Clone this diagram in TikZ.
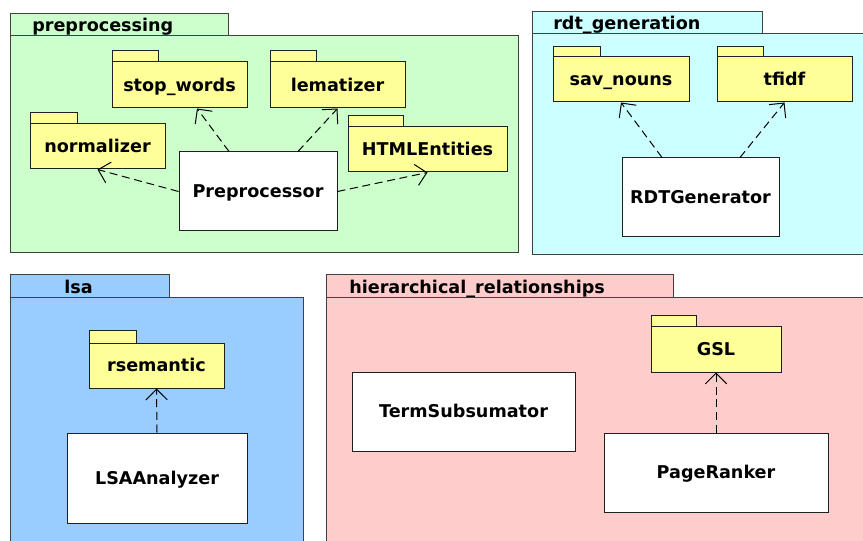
\documentclass[tikz,border=0pt]{standalone}
\usepackage{fontspec}
\setmainfont{DejaVu Sans}
\usetikzlibrary{arrows.meta,fit}
\newdimen\pxu \pxu=0.75pt
\definecolor{pkgline}{HTML}{404040}
\definecolor{boxline}{HTML}{202020}
\definecolor{prefill}{HTML}{CCFFCC}
\definecolor{rdtfill}{HTML}{CCFFFF}
\definecolor{lsafill}{HTML}{99CCFF}
\definecolor{hierfill}{HTML}{FFCCCC}
\definecolor{subfill}{HTML}{FFFF99}
\tikzset{
  txt/.style={font=\bfseries\fontsize{13.2}{16}\selectfont, text=black},
  sized/.style 2 args={minimum width=#1\pxu, minimum height=#2\pxu},
  pkgpart/.style={draw=pkgline, line width=0.75pt, inner sep=0pt},
  tabpart/.style={draw=boxline, line width=0.75pt, inner sep=0pt, fill=subfill},
  subpart/.style={draw=boxline, line width=0.75pt, inner sep=0pt, fill=subfill,
    txt, text height=9.6pt, text depth=0pt},
  classbox/.style={draw=boxline, line width=0.75pt, inner sep=0pt, fill=white,
    txt, text height=9.6pt, text depth=0pt},
  pkglabel/.style={anchor=base west, inner sep=0pt, txt},
  dep/.style={draw=black, line width=0.75pt, dash pattern=on 6pt off 3.5pt,
    -{Straight Barb[length=8pt,width=16pt,line width=0.75pt]}}
}
\begin{document}
\begin{tikzpicture}[x=0.75pt, y=-0.75pt]
\useasboundingbox (0,0) rectangle (863,541);
\fill[white] (0,0) rectangle (863,541);

% outer packages: tab + body
\node[pkgpart, fill=prefill, fit={(10,14)(228,36)}] (preTab) {};
\node[pkgpart, fill=prefill, fit={(10,36)(518,253)}] (preBody) {};
\node[pkglabel] (preLbl) at (32,32) {preprocessing};

\node[pkgpart, fill=rdtfill, fit={(532,12)(762,34)}] (rdtTab) {};
\node[pkgpart, fill=rdtfill, fit={(532,34)(880,255)}] (rdtBody) {};
\node[pkglabel] (rdtLbl) at (553,30) {rdt\_generation};

\node[pkgpart, fill=lsafill, fit={(10,275)(169,298)}] (lsaTab) {};
\node[pkgpart, fill=lsafill, fit={(10,298)(303,560)}] (lsaBody) {};
\node[pkglabel] (lsaLbl) at (64,294) {lsa};

\node[pkgpart, fill=hierfill, fit={(326,275)(673,298)}] (hierTab) {};
\node[pkgpart, fill=hierfill, fit={(326,298)(880,560)}] (hierBody) {};
\node[pkglabel] (hierLbl) at (349,294) {hierarchical\_relationships};

% nested packages: small tab, then body with name
\node[tabpart, fit={(112,51)(158,62)}] (stopTab) {};
\node[subpart, sized={135}{46}] (stop) at (179.5,85) {stop\_words};
\node[tabpart, fit={(270,51)(316,62)}] (lemTab) {};
\node[subpart, sized={135}{46}] (lem) at (337.5,85) {lematizer};
\node[tabpart, fit={(30,113)(77,124)}] (normTab) {};
\node[subpart, sized={135}{45}] (norm) at (97.5,146.5) {normalizer};
\node[tabpart, fit={(348,116)(403,127)}] (htmlTab) {};
\node[subpart, sized={159}{45}] (html) at (427.5,149.5) {HTMLEntities};

\node[tabpart, fit={(553,47)(600,57)}] (savTab) {};
\node[subpart, sized={136}{45}] (sav) at (621,79.5) {sav\_nouns};
\node[tabpart, fit={(717,47)(763,57)}] (tfidfTab) {};
\node[subpart, sized={135}{45}] (tfidf) at (784.5,79.5) {tfidf};

\node[tabpart, fit={(89,331)(136,343)}] (rsemTab) {};
\node[subpart, sized={135}{45}] (rsem) at (156.5,365.5) {rsemantic};

\node[tabpart, fit={(651,316)(696,327)}] (gslTab) {};
\node[subpart, sized={130}{45}] (gsl) at (716,349.5) {GSL};

% classes
\node[classbox, sized={158}{79}] (pre) at (258,191.5) {Preprocessor};
\node[classbox, sized={157}{79}] (rdt) at (700.5,197.5) {RDTGenerator};
\node[classbox, sized={180}{90}] (lsa) at (157,478) {LSAAnalyzer};
\node[classbox, sized={223}{79}] (term) at (463.5,411.5) {TermSubsumator};
\node[classbox, sized={224}{79}] (rank) at (716,472.5) {PageRanker};

% dependencies
\draw[dep] (pre.west) -- (norm.south);
\draw[dep] ([xshift=-29\pxu]pre.north) -- ([xshift=17.5\pxu]stop.south);
\draw[dep] ([xshift=40\pxu]pre.north) -- (lem.south);
\draw[dep] (pre.east) -- (html.south);
\draw[dep] ([xshift=-38.5\pxu]rdt.north) -- (sav.south);
\draw[dep] ([xshift=39.5\pxu]rdt.north) -- (tfidf.south);
\draw[dep] (lsa.north) -- (rsem.south);
\draw[dep] (rank.north) -- (gsl.south);
\end{tikzpicture}
\end{document}
